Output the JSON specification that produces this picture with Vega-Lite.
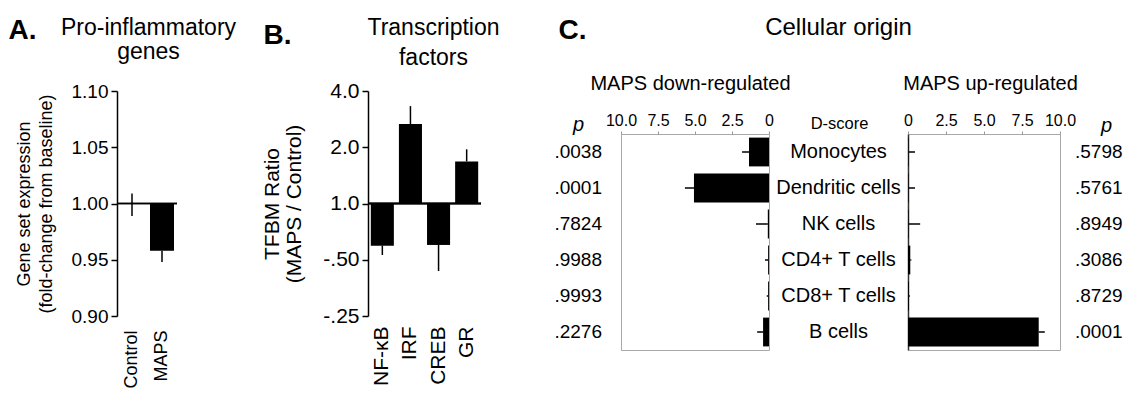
{
  "$schema": "https://vega.github.io/schema/vega-lite/v6.json",
  "padding": {"left": 8, "top": 14, "right": 0, "bottom": 0},
  "background": "white",
  "config": {
    "font": "Liberation Sans",
    "view": {"stroke": null},
    "axis": {"grid": false, "labelFlush": false, "labelColor": "black", "titleColor": "black", "domainColor": "black", "tickColor": "black", "titleFontWeight": "normal", "domainWidth": 1.5, "tickWidth": 1.5}
  },
  "datasets": {
    "genes": [
      {"group": "Control", "value": 1.0, "lo": 0.989, "hi": 1.009},
      {"group": "MAPS", "value": 0.958, "lo": 0.948, "hi": 0.958}
    ],
    "tf": [
      {"factor": "NF-κB", "value": 0.595, "lo": 0.53, "hi": 0.595},
      {"factor": "IRF", "value": 2.66, "lo": 2.66, "hi": 3.32},
      {"factor": "CREB", "value": 0.6, "lo": 0.435, "hi": 0.6},
      {"factor": "GR", "value": 1.68, "lo": 1.68, "hi": 1.95}
    ],
    "cells": [
      {"cell": "Monocytes", "down": 1.35, "down_err": 1.82, "p_down": ".0038", "up": 0.04, "up_err": 0.46, "p_up": ".5798"},
      {"cell": "Dendritic cells", "down": 5.07, "down_err": 5.68, "p_down": ".0001", "up": 0.04, "up_err": 0.46, "p_up": ".5761"},
      {"cell": "NK cells", "down": 0.08, "down_err": 0.88, "p_down": ".7824", "up": 0.04, "up_err": 0.8, "p_up": ".8949"},
      {"cell": "CD4+ T cells", "down": 0.06, "down_err": 0.27, "p_down": ".9988", "up": 0.15, "up_err": 0.22, "p_up": ".3086"},
      {"cell": "CD8+ T cells", "down": 0.06, "down_err": 0.15, "p_down": ".9993", "up": 0.06, "up_err": 0.12, "p_up": ".8729"},
      {"cell": "B cells", "down": 0.4, "down_err": 0.8, "p_down": ".2276", "up": 8.6, "up_err": 9.0, "p_up": ".0001"}
    ]
  },
  "spacing": 0,
  "bounds": "flush",
  "hconcat": [
    {
      "width": 60,
      "height": 225,
      "data": {"name": "genes"},
      "resolve": {"axis": {"x": "independent"}},
      "layer": [
        {
          "mark": {"type": "bar", "color": "black"},
          "encoding": {
            "x": {"field": "group", "type": "nominal", "sort": null, "scale": {"paddingInner": 0.2, "paddingOuter": 0.1},
              "axis": {"labelAngle": 270, "labelPadding": 14, "labelFontSize": 18, "domain": false, "ticks": false,
                "title": "A.", "titleX": -109, "titleY": -278, "titleAlign": "left", "titleBaseline": "alphabetic", "titleAngle": 0, "titleFontSize": 28, "titleFontWeight": "bold"}},
            "y": {"field": "value", "type": "quantitative", "scale": {"domain": [0.9, 1.1], "zero": false, "nice": false},
              "axis": {"values": [0.9, 0.95, 1.0, 1.05, 1.1], "format": ".2f", "labelFontSize": 19, "tickSize": 6, "labelPadding": 3,
                "title": ["Gene set expression", "(fold-change from baseline)"], "titleFontSize": 18, "titlePadding": 16, "titleLineHeight": 22}},
            "y2": {"datum": 1}
          }
        },
        {
          "mark": {"type": "rule", "color": "black", "strokeWidth": 1.5},
          "encoding": {
            "x": {"field": "group", "type": "nominal", "sort": null,
              "axis": {"orient": "top", "labels": false, "ticks": false, "domain": false,
                "title": ["Pro-inflammatory", "genes"], "titleX": 31, "titleY": -57, "titleAlign": "center", "titleBaseline": "alphabetic", "titleAngle": 0, "titleFontSize": 23, "titleLineHeight": 24}},
            "y": {"field": "lo", "type": "quantitative"},
            "y2": {"field": "hi"}
          }
        },
        {
          "mark": {"type": "rule", "color": "black", "strokeWidth": 1.5},
          "encoding": {"y": {"datum": 1}}
        }
      ]
    },
    {
      "width": 191, "height": 1,
      "data": {"values": [{}]},
      "mark": {"type": "text"},
      "encoding": {"text": {"value": ""}}
    },
    {
      "width": 113,
      "height": 225,
      "data": {"name": "tf"},
      "resolve": {"axis": {"x": "independent"}},
      "layer": [
        {
          "mark": {"type": "bar", "color": "black"},
          "encoding": {
            "x": {"field": "factor", "type": "nominal", "sort": null, "scale": {"paddingInner": 0.18, "paddingOuter": 0.1},
              "axis": {"labelAngle": 270, "labelPadding": 10, "labelFontSize": 21, "domain": false, "ticks": false,
                "title": "B.", "titleX": -105, "titleY": -273, "titleAlign": "left", "titleBaseline": "alphabetic", "titleAngle": 0, "titleFontSize": 28, "titleFontWeight": "bold"}},
            "y": {"field": "value", "type": "quantitative", "scale": {"type": "log", "base": 2, "domain": [0.25, 4], "nice": false},
              "axis": {"values": [0.25, 0.5, 1, 2, 4], "labelExpr": "datum.value == 4 ? '4.0' : datum.value == 2 ? '2.0' : datum.value == 1 ? '1.0' : datum.value == 0.5 ? '-.50' : '-.25'",
                "labelFontSize": 21, "tickSize": 6, "labelPadding": 3,
                "title": ["TFBM Ratio", "(MAPS / Control)"], "titleFontSize": 21, "titlePadding": 18, "titleLineHeight": 22}},
            "y2": {"datum": 1}
          }
        },
        {
          "mark": {"type": "rule", "color": "black", "strokeWidth": 1.5},
          "encoding": {
            "x": {"field": "factor", "type": "nominal", "sort": null,
              "axis": {"orient": "top", "labels": false, "ticks": false, "domain": false,
                "title": ["Transcription", "factors"], "titleX": 65, "titleY": -57, "titleAlign": "center", "titleBaseline": "alphabetic", "titleAngle": 0, "titleFontSize": 23, "titleLineHeight": 30}},
            "y": {"field": "lo", "type": "quantitative"},
            "y2": {"field": "hi"}
          }
        },
        {
          "mark": {"type": "rule", "color": "black", "strokeWidth": 1.5},
          "encoding": {"y": {"datum": 1}}
        }
      ]
    },
    {
      "width": 140, "height": 1,
      "data": {"values": [{}]},
      "mark": {"type": "text"},
      "encoding": {"text": {"value": ""}}
    },
    {
      "spacing": 42,
      "bounds": "flush",
      "vconcat": [
        {
          "width": 439, "height": 1,
          "data": {"values": [{}]},
          "mark": {"type": "text"},
          "encoding": {"text": {"value": ""}}
        },
        {
          "spacing": 139,
          "bounds": "flush",
          "hconcat": [
            {
              "width": 148,
              "height": 216,
              "view": {"stroke": "#a8a8a8"},
              "data": {"name": "cells"},
              "resolve": {"axis": {"x": "independent"}},
              "encoding": {
                "y": {"field": "cell", "type": "nominal", "sort": null, "scale": {"paddingInner": 0.2, "paddingOuter": 0.1},
                  "axis": {"labels": false, "ticks": false, "domain": false, "title": "p", "titleAngle": 0, "titleX": -43, "titleY": -4,
                    "titleAlign": "center", "titleBaseline": "alphabetic", "titleFontSize": 20, "titleFontStyle": "italic"}}
              },
              "layer": [
                {
                  "mark": {"type": "bar", "color": "black"},
                  "encoding": {
                    "x": {"field": "down", "type": "quantitative", "scale": {"domain": [0, 10], "reverse": true, "nice": false},
                      "axis": {"orient": "top", "values": [0, 2.5, 5, 7.5, 10], "labelExpr": "datum.value == 0 ? '0' : format(datum.value, '.1f')", "labelOverlap": false, "labelFlush": false,
                        "labelFontSize": 16, "tickSize": 3, "tickWidth": 1, "tickColor": "#999999", "domain": false, "labelPadding": 3,
                        "title": "C.", "titleX": -63, "titleY": -96, "titleAlign": "left", "titleBaseline": "alphabetic", "titleAngle": 0, "titleFontSize": 28, "titleFontWeight": "bold"}}
                  }
                },
                {
                  "mark": {"type": "rule", "color": "black", "strokeWidth": 1.5},
                  "encoding": {
                    "x": {"field": "down", "type": "quantitative",
                      "axis": {"orient": "bottom", "labels": false, "ticks": false, "domain": false,
                        "title": "MAPS down-regulated", "titleX": 69, "titleY": -261, "titleAlign": "center", "titleBaseline": "alphabetic", "titleAngle": 0, "titleFontSize": 20}},
                    "x2": {"field": "down_err"}
                  }
                },
                {
                  "mark": {"type": "text", "align": "right", "baseline": "middle", "dx": -19, "fontSize": 19, "color": "black"},
                  "encoding": {
                    "x": {"datum": 10, "axis": null},
                    "text": {"field": "p_down"}
                  }
                }
              ]
            },
            {
              "width": 152,
              "height": 216,
              "view": {"stroke": "#a8a8a8"},
              "data": {"name": "cells"},
              "resolve": {"axis": {"x": "independent", "y": "independent"}},
              "layer": [
                {
                  "mark": {"type": "bar", "color": "black"},
                  "encoding": {
                    "y": {"field": "cell", "type": "nominal", "sort": null, "scale": {"paddingInner": 0.2, "paddingOuter": 0.1},
                      "axis": {"labelAlign": "center", "labelPadding": 70, "labelFontSize": 20, "ticks": false, "tickSize": 0, "domain": true, "domainWidth": 1.5, "domainColor": "#333333",
                        "title": "D-score", "titleAngle": 0, "titleX": -69, "titleY": -6, "titleAlign": "center", "titleBaseline": "alphabetic", "titleFontSize": 16.5}},
                    "x": {"field": "up", "type": "quantitative", "scale": {"domain": [0, 10], "nice": false},
                      "axis": {"orient": "top", "values": [0, 2.5, 5, 7.5, 10], "labelExpr": "datum.value == 0 ? '0' : format(datum.value, '.1f')", "labelOverlap": false, "labelFlush": false,
                        "labelFontSize": 16, "tickSize": 3, "tickWidth": 1, "tickColor": "#999999", "domain": false, "labelPadding": 3,
                        "title": "p", "titleX": 198, "titleY": -3, "titleAlign": "center", "titleBaseline": "alphabetic", "titleAngle": 0, "titleFontSize": 20, "titleFontStyle": "italic"}}
                  }
                },
                {
                  "mark": {"type": "rule", "color": "black", "strokeWidth": 1.5},
                  "encoding": {
                    "y": {"field": "cell", "type": "nominal", "sort": null,
                      "axis": {"orient": "right", "labels": false, "ticks": false, "domain": false,
                        "title": "Cellular origin", "titleX": -222, "titleY": -100, "titleAlign": "center", "titleBaseline": "alphabetic", "titleAngle": 0, "titleFontSize": 24}},
                    "x": {"field": "up", "type": "quantitative",
                      "axis": {"orient": "bottom", "labels": false, "ticks": false, "domain": false,
                        "title": "MAPS up-regulated", "titleX": 82, "titleY": -261, "titleAlign": "center", "titleBaseline": "alphabetic", "titleAngle": 0, "titleFontSize": 20}},
                    "x2": {"field": "up_err"}
                  }
                },
                {
                  "mark": {"type": "text", "align": "left", "baseline": "middle", "dx": 15, "fontSize": 19, "color": "black"},
                  "encoding": {
                    "y": {"field": "cell", "type": "nominal", "sort": null, "axis": null},
                    "x": {"datum": 10, "axis": null},
                    "text": {"field": "p_up"}
                  }
                }
              ]
            }
          ]
        }
      ]
    }
  ]
}
